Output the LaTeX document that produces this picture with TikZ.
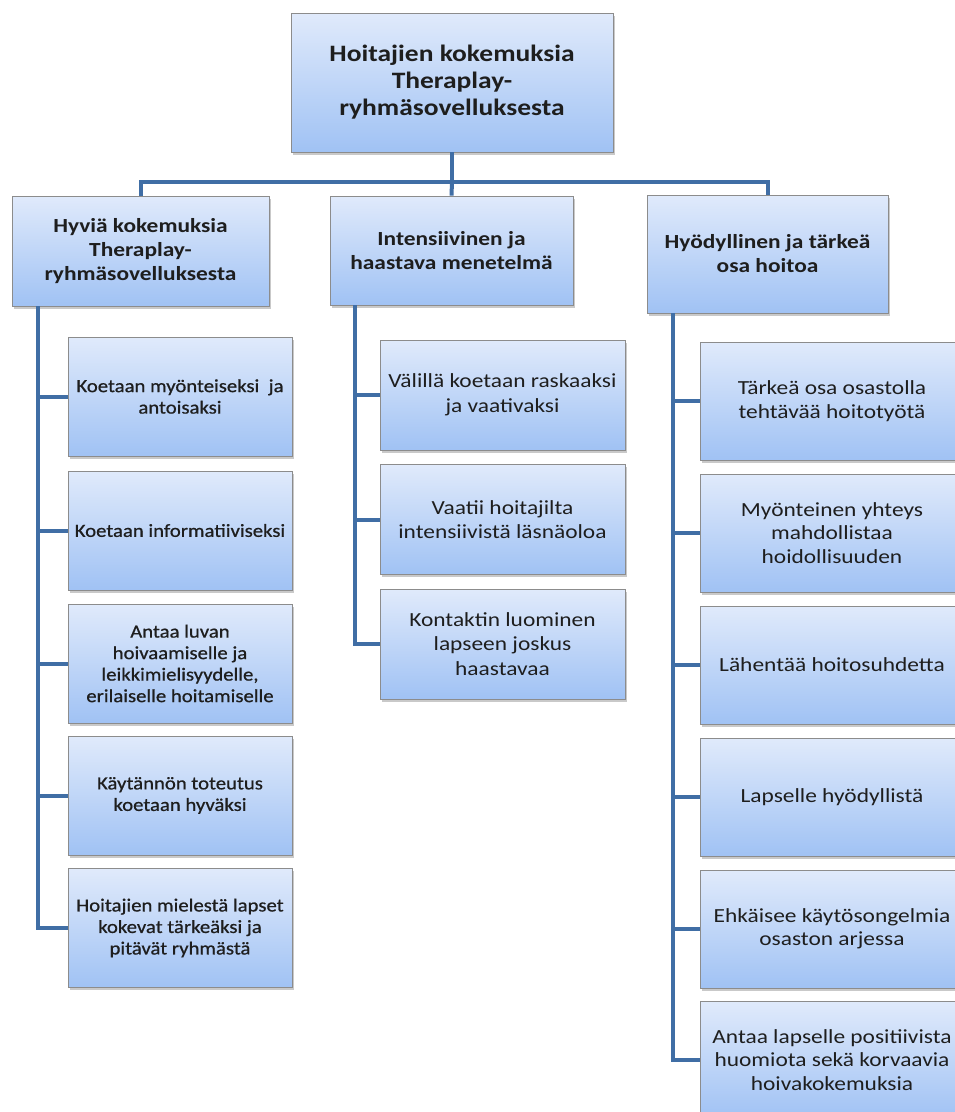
\documentclass[tikz,border=0pt]{standalone}
\usepackage{fontspec}
\setmainfont{Carlito}[FakeStretch=1.17]
\newfontfamily\semib{Carlito}[FakeStretch=1.12, FakeBold=0.7]
\usetikzlibrary{shadows}
\definecolor{linecol}{RGB}{64,110,165}
\definecolor{boxtop}{RGB}{224,234,251}
\definecolor{boxbot}{RGB}{160,194,244}
\definecolor{boxedge}{RGB}{140,140,140}
\definecolor{txt}{RGB}{30,30,30}
\tikzset{
  box/.style={rectangle, draw=boxedge, line width=0.8pt, top color=boxtop, bottom color=boxbot,
    inner sep=0pt, align=center, text=txt,
    drop shadow={shadow xshift=2pt, shadow yshift=-2.5pt, opacity=0.35, fill=black!60}},
  topbox/.style={box, minimum width=322, minimum height=139, font=\bfseries\fontsize{23.5}{27}\selectfont},
  headbox/.style={box, font=\bfseries\fontsize{20}{24}\selectfont},
  lchild/.style={box, minimum width=224, minimum height=119, font=\semib\fontsize{18.5}{21.5}\selectfont},
  mchild/.style={box, minimum width=245, minimum height=110, font=\fontsize{20}{24.5}\selectfont},
  rchild/.style={box, minimum width=264, minimum height=118, font=\fontsize{20}{23.5}\selectfont},
  conn/.style={draw=linecol, line width=4pt}
}
\begin{document}
\begin{tikzpicture}[x=1pt, y=-1pt]
\useasboundingbox (0,0) rectangle (955,1112);
\fill[white] (0,0) rectangle (955,1112);
\begin{scope}
\clip (0,0) rectangle (955,1112);

\coordinate (bus) at (452,182);
\coordinate (lv) at (38,306);
\coordinate (mv) at (355,305);
\coordinate (rv) at (673,313);

\node[topbox] (top) at (452,82.5) {Hoitajien kokemuksia\\Theraplay-\\ryhmäsovelluksesta};
\node[headbox, minimum width=257, minimum height=110] (h1) at (140.5,251) {Hyviä kokemuksia\\Theraplay-\\ryhmäsovelluksesta};
\node[headbox, minimum width=243, minimum height=109] (h2) at (451.5,250.5) {Intensiivinen ja\\haastava menetelmä};
\node[headbox, minimum width=241, minimum height=118] (h3) at (767.5,254) {Hyödyllinen ja tärkeä\\osa hoitoa};

\node[lchild] (l1) at (180,396.5) {Koetaan myönteiseksi\ \ ja\\antoisaksi};
\node[lchild] (l2) at (180,530.5) {Koetaan informatiiviseksi};
\node[lchild] (l3) at (180,663.5) {Antaa luvan\\hoivaamiselle ja\\leikkimielisyydelle,\\erilaiselle hoitamiselle};
\node[lchild] (l4) at (180,795.5) {Käytännön toteutus\\koetaan hyväksi};
\node[lchild] (l5) at (180,928) {Hoitajien mielestä lapset\\kokevat tärkeäksi ja\\pitävät ryhmästä};

\node[mchild] (m1) at (502.5,395) {Välillä koetaan raskaaksi\\ja vaativaksi};
\node[mchild] (m2) at (502.5,519.5) {Vaatii hoitajilta\\intensiivistä läsnäoloa};
\node[mchild] (m3) at (502.5,644) {Kontaktin luominen\\lapseen joskus\\haastavaa};

\node[rchild] (r1) at (832,401) {Tärkeä osa osastolla\\tehtävää hoitotyötä};
\node[rchild] (r2) at (832,533) {Myönteinen yhteys\\mahdollistaa\\hoidollisuuden};
\node[rchild] (r3) at (832,665) {Lähentää hoitosuhdetta};
\node[rchild] (r4) at (832,797) {Lapselle hyödyllistä};
\node[rchild] (r5) at (832,929) {Ehkäisee käytösongelmia\\osaston arjessa};
\node[rchild] (r6) at (832,1060) {Antaa lapselle positiivista\\huomiota sekä korvaavia\\hoivakokemuksia};

% top level connectors
\draw[conn] (top.south) -- (bus);
\draw[conn] (h1.north) |- (bus) -| (h3.north);
\draw[conn] (bus) -- (h2.north);

% left branch
\draw[conn] (lv) |- (l5.west);
\foreach \c in {l1,l2,l3,l4} \draw[conn] (\c.west) -- (\c.west -| lv);
% middle branch
\draw[conn] (mv) |- (m3.west);
\foreach \c in {m1,m2} \draw[conn] (\c.west) -- (\c.west -| mv);
% right branch
\draw[conn] (rv) |- (r6.west);
\foreach \c in {r1,r2,r3,r4,r5} \draw[conn] (\c.west) -- (\c.west -| rv);
\end{scope}
\end{tikzpicture}
\end{document}
